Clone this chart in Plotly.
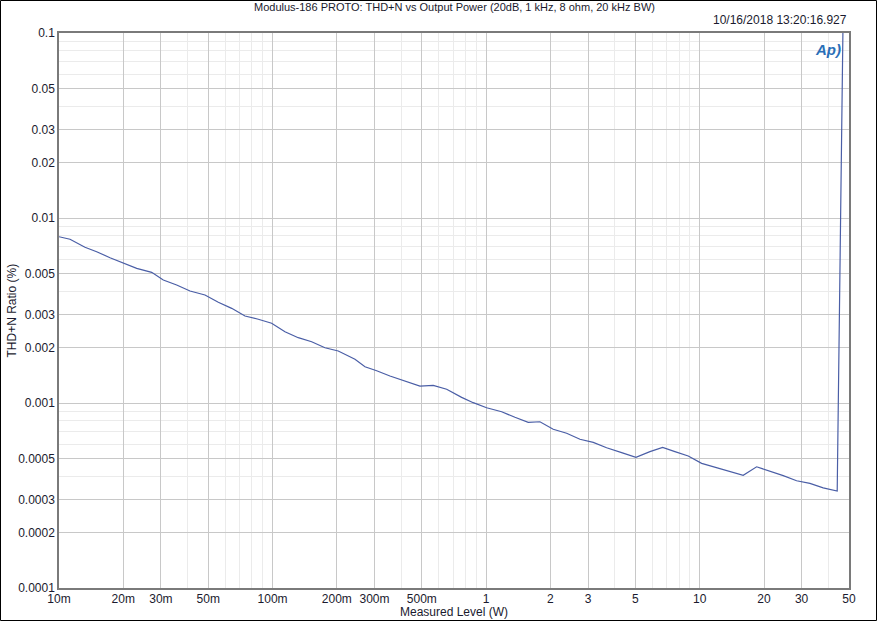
import plotly.graph_objects as go

# Measured level (W)
power_w = [0.0100, 0.01126, 0.01323, 0.01501, 0.01733, 0.02000, 0.02311, 0.02716,
           0.03078, 0.03556, 0.04106, 0.04825, 0.05570, 0.06435, 0.07428, 0.08573,
           0.0990, 0.1143, 0.1319, 0.1524, 0.1759, 0.2030, 0.2431, 0.2708,
           0.3072, 0.3545, 0.4168, 0.4898, 0.5653, 0.6534, 0.7679, 0.8700,
           1.005, 1.182, 1.364, 1.574, 1.786, 2.061, 2.382, 2.749,
           3.173, 3.665, 4.308, 5.028, 5.847, 6.704, 7.654, 8.835,
           10.21, 12.00, 13.85, 15.98, 18.47, 21.32, 24.60, 28.42,
           32.81, 37.86, 44.03, 46.82]
# THD+N ratio (%)
thdn_pct = [0.007923, 0.007672, 0.006944, 0.006574, 0.006101, 0.005733, 0.005345, 0.005085,
            0.004622, 0.004343, 0.004030, 0.003834, 0.003501, 0.003249, 0.002953, 0.002835,
            0.002697, 0.002428, 0.002254, 0.002145, 0.001990, 0.001910, 0.001723, 0.001571,
            0.001495, 0.001399, 0.001315, 0.001235, 0.001246, 0.001186, 0.001073, 0.001004,
            0.000943, 0.000897, 0.000837, 0.000786, 0.000792, 0.000721, 0.000686, 0.000637,
            0.000613, 0.000573, 0.000539, 0.000509, 0.000546, 0.000576, 0.000546, 0.000517,
            0.000472, 0.000447, 0.000425, 0.000407, 0.000452, 0.000429, 0.000405, 0.000380,
            0.000368, 0.000348, 0.000334, 0.1]

x_tick_vals = [0.01, 0.02, 0.03, 0.05, 0.1, 0.2, 0.3, 0.5, 1, 2, 3, 5, 10, 20, 30, 50]
x_tick_text = ["10m", "20m", "30m", "50m", "100m", "200m", "300m", "500m",
               "1", "2", "3", "5", "10", "20", "30", "50"]
y_tick_vals = [0.1, 0.05, 0.03, 0.02, 0.01, 0.005, 0.003, 0.002, 0.001,
               0.0005, 0.0003, 0.0002, 0.0001]
y_tick_text = ["0.1", "0.05", "0.03", "0.02", "0.01", "0.005", "0.003", "0.002",
               "0.001", "0.0005", "0.0003", "0.0002", "0.0001"]
minor_mults = [4, 6, 7, 8, 9]
x_minor = [m * d for d in [0.01, 0.1, 1, 10] for m in minor_mults if m * d < 50]
y_minor = [m * d for d in [0.0001, 0.001, 0.01] for m in minor_mults]

title_text = "Modulus-186 PROTO: THD+N vs Output Power (20dB, 1 kHz, 8 ohm, 20 kHz BW)"
stamp_text = "10/16/2018 13:20:16.927"
x_title = "Measured Level (W)"
y_title = "THD+N Ratio (%)"

FONT = "Liberation Sans"
TXT = "#1a1a2e"

fig = go.Figure()
fig.add_trace(go.Scatter(x=power_w, y=thdn_pct, mode="lines",
                         line=dict(color="#4a5ea6", width=1.2),
                         showlegend=False, hoverinfo="x+y"))

W, H = 877, 621
L, R, T, B = 59, 28, 33, 33
pw, ph = W - L - R, H - T - B

fig.update_layout(
    width=W, height=H,
    margin=dict(l=L, r=R, t=T, b=B, autoexpand=False),
    paper_bgcolor="white", plot_bgcolor="white",
    font=dict(family=FONT, size=12, color=TXT),
    xaxis=dict(type="log", range=[-2, 1.69897], tickvals=x_tick_vals, ticktext=x_tick_text,
               automargin=False, ticklabelstandoff=-1,
               showgrid=True, gridcolor="#c8c8c8", gridwidth=1,
               showline=True, linecolor="#7a7a7a", linewidth=1.5, mirror=True,
               ticks="", zeroline=False, tickfont=dict(size=12, color=TXT),
               minor=dict(tickvals=x_minor, showgrid=True, gridcolor="#ebebeb", gridwidth=1, ticks="")),
    yaxis=dict(type="log", range=[-4, -1], tickvals=y_tick_vals, ticktext=y_tick_text,
               automargin=False,
               showgrid=True, gridcolor="#c8c8c8", gridwidth=1,
               showline=True, linecolor="#7a7a7a", linewidth=1.5, mirror=True,
               ticks="", zeroline=False, tickfont=dict(size=12, color=TXT),
               minor=dict(tickvals=y_minor, showgrid=True, gridcolor="#ebebeb", gridwidth=1, ticks="")),
)

fig.add_annotation(text=title_text, xref="paper", yref="paper", x=0.5, y=1 + 26 / ph,
                   xanchor="center", yanchor="middle", showarrow=False,
                   font=dict(family=FONT, size=11, color=TXT))
fig.add_annotation(text=stamp_text, xref="paper", yref="paper", x=1.0, y=1 + 13 / ph,
                   xanchor="right", yanchor="middle", showarrow=False,
                   font=dict(family=FONT, size=12, color=TXT))
fig.add_annotation(text=x_title, xref="paper", yref="paper", x=0.5, y=-24 / ph,
                   xanchor="center", yanchor="middle", showarrow=False,
                   font=dict(family=FONT, size=12, color=TXT))
fig.add_annotation(text=y_title, xref="paper", yref="paper", x=-48 / pw, y=0.5,
                   xanchor="center", yanchor="middle", showarrow=False, textangle=-90,
                   font=dict(family=FONT, size=12, color=TXT))
# AP logo
fig.add_annotation(text="<b><i>Ap)</i></b>", xref="paper", yref="paper",
                   x=1 - 21 / pw, y=1 - 16 / ph, xanchor="center", yanchor="middle",
                   showarrow=False, font=dict(family=FONT, size=15, color="#2a6fb8"))
# outer frame
fig.add_shape(type="rect", xref="paper", yref="paper",
              x0=-(L - 0.5) / pw, x1=1 + (R - 0.5) / pw,
              y0=-(B - 0.5) / ph, y1=1 + (T - 0.5) / ph,
              line=dict(color="black", width=1), fillcolor="rgba(0,0,0,0)", layer="above")

fig.write_html("out.html", config={"displayModeBar": False},
               post_script="document.body.style.margin='0';document.body.style.padding='0';"
                           "document.body.style.overflow='hidden';")
